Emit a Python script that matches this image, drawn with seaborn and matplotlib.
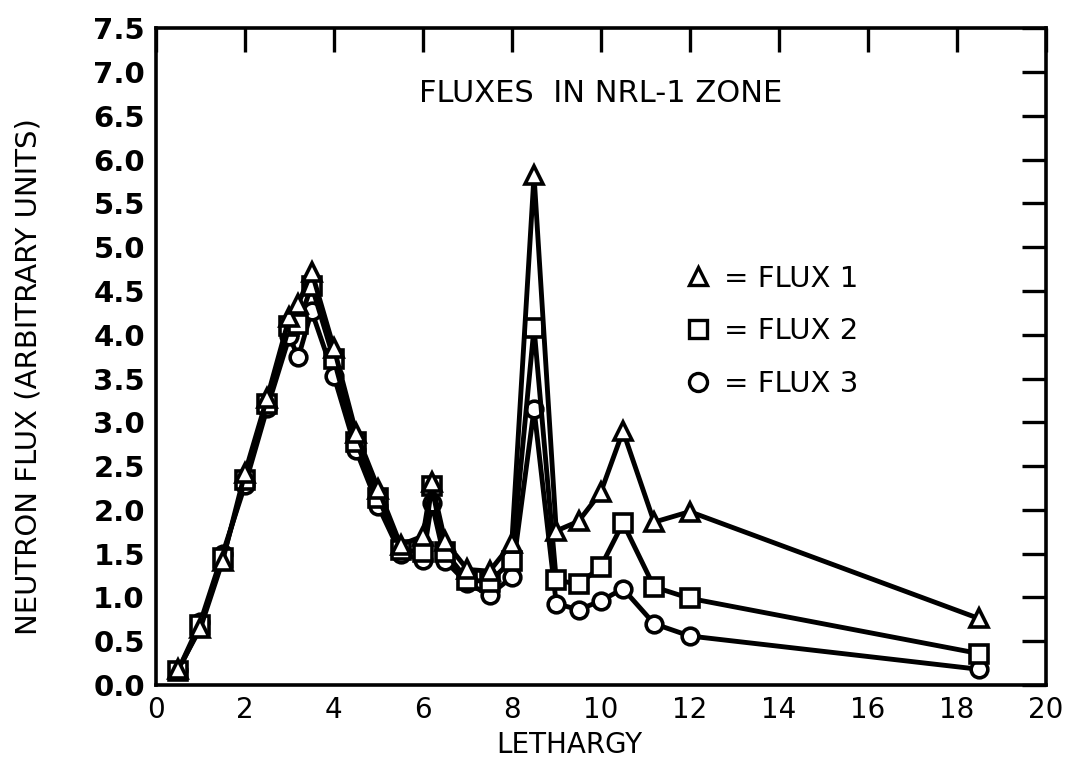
import matplotlib
matplotlib.use("Agg")
import matplotlib.pyplot as plt
import seaborn as sns
import pandas as pd
from matplotlib.lines import Line2D

# -------------------------------
# data
# -------------------------------
lethargy = [0.5, 1.0, 1.5, 2.0, 2.5, 3.0, 3.2, 3.5, 4.0, 4.5, 5.0, 5.5, 6.0,
            6.2, 6.5, 7.0, 7.5, 8.0, 8.5, 9.0, 9.5, 10.0, 10.5, 11.2, 12.0, 18.5]

flux1 = [0.18, 0.65, 1.42, 2.42, 3.28, 4.2, 4.35, 4.72, 3.85, 2.88, 2.24, 1.6, 1.7,
         2.32, 1.64, 1.32, 1.3, 1.62, 5.82, 1.76, 1.87, 2.2, 2.9, 1.86, 1.98, 0.76]
flux2 = [0.16, 0.68, 1.45, 2.34, 3.21, 4.1, 4.12, 4.56, 3.72, 2.78, 2.14, 1.54, 1.52,
         2.27, 1.52, 1.2, 1.18, 1.42, 4.08, 1.2, 1.15, 1.35, 1.85, 1.12, 0.99, 0.36]
flux3 = [0.17, 0.72, 1.5, 2.28, 3.16, 3.98, 3.74, 4.27, 3.53, 2.68, 2.04, 1.5, 1.43,
         2.08, 1.42, 1.16, 1.03, 1.23, 3.15, 0.93, 0.86, 0.96, 1.1, 0.7, 0.56, 0.18]

series = ["FLUX 1", "FLUX 2", "FLUX 3"]
markers = {"FLUX 1": "^", "FLUX 2": "s", "FLUX 3": "o"}

df = pd.DataFrame({"lethargy": lethargy, "FLUX 1": flux1, "FLUX 2": flux2, "FLUX 3": flux3})
long_df = df.melt(id_vars="lethargy", var_name="series", value_name="flux")

# -------------------------------
# figure
# -------------------------------
sns.set_style("white")
plt.rcParams["font.family"] = ["DejaVu Sans"]
plt.rcParams["text.color"] = "black"
plt.rcParams["axes.labelcolor"] = "black"
plt.rcParams["xtick.color"] = "black"
plt.rcParams["ytick.color"] = "black"

fig = plt.figure(figsize=(10.68, 7.62), dpi=100)
ax = fig.add_axes([0.146, 0.101, 0.833, 0.862])

for name in ["FLUX 3", "FLUX 2", "FLUX 1"]:
    sns.lineplot(
        data=long_df[long_df["series"] == name],
        x="lethargy", y="flux",
        color="black", linewidth=3.5,
        marker=markers[name], markersize=13 if name != "FLUX 3" else 12,
        markerfacecolor="white", markeredgecolor="black", markeredgewidth=2.6,
        ax=ax, legend=False,
    )

ax.set_xlim(0, 20)
ax.set_ylim(0, 7.5)
ax.set_xticks(range(0, 21, 2))
ax.set_yticks([i * 0.5 for i in range(16)])
ax.set_yticklabels([f"{i * 0.5:.1f}" for i in range(16)])

ax.tick_params(direction="in", length=17, width=2.4, top=True, right=True, pad=8)
ax.tick_params(axis="y", labelsize=21)
ax.tick_params(axis="x", labelsize=20)
for lbl in ax.get_yticklabels():
    lbl.set_fontweight("bold")
for s in ax.spines.values():
    s.set_linewidth(2.6)
    s.set_color("black")

ax.set_xlabel("LETHARGY", fontsize=20)
ax.set_ylabel("NEUTRON FLUX (ARBITRARY UNITS)", fontsize=21)
ax.xaxis.set_label_coords(0.465, -0.07)
ax.yaxis.set_label_coords(-0.127, 0.469)

ax.text(10.0, 6.76, "FLUXES  IN NRL-1 ZONE", ha="center", va="center", fontsize=22)

handles = [Line2D([], [], linestyle="none", marker=markers[n], markersize=13,
                  markerfacecolor="white", markeredgecolor="black", markeredgewidth=2.4)
           for n in series]
ax.legend(handles, ["= " + n for n in series], frameon=False, fontsize=21,
          loc="upper left", bbox_to_anchor=(0.56, 0.68), labelspacing=0.85,
          handletextpad=0.3, handlelength=1.2)

plt.savefig("out.png", dpi=100)
plt.close()
